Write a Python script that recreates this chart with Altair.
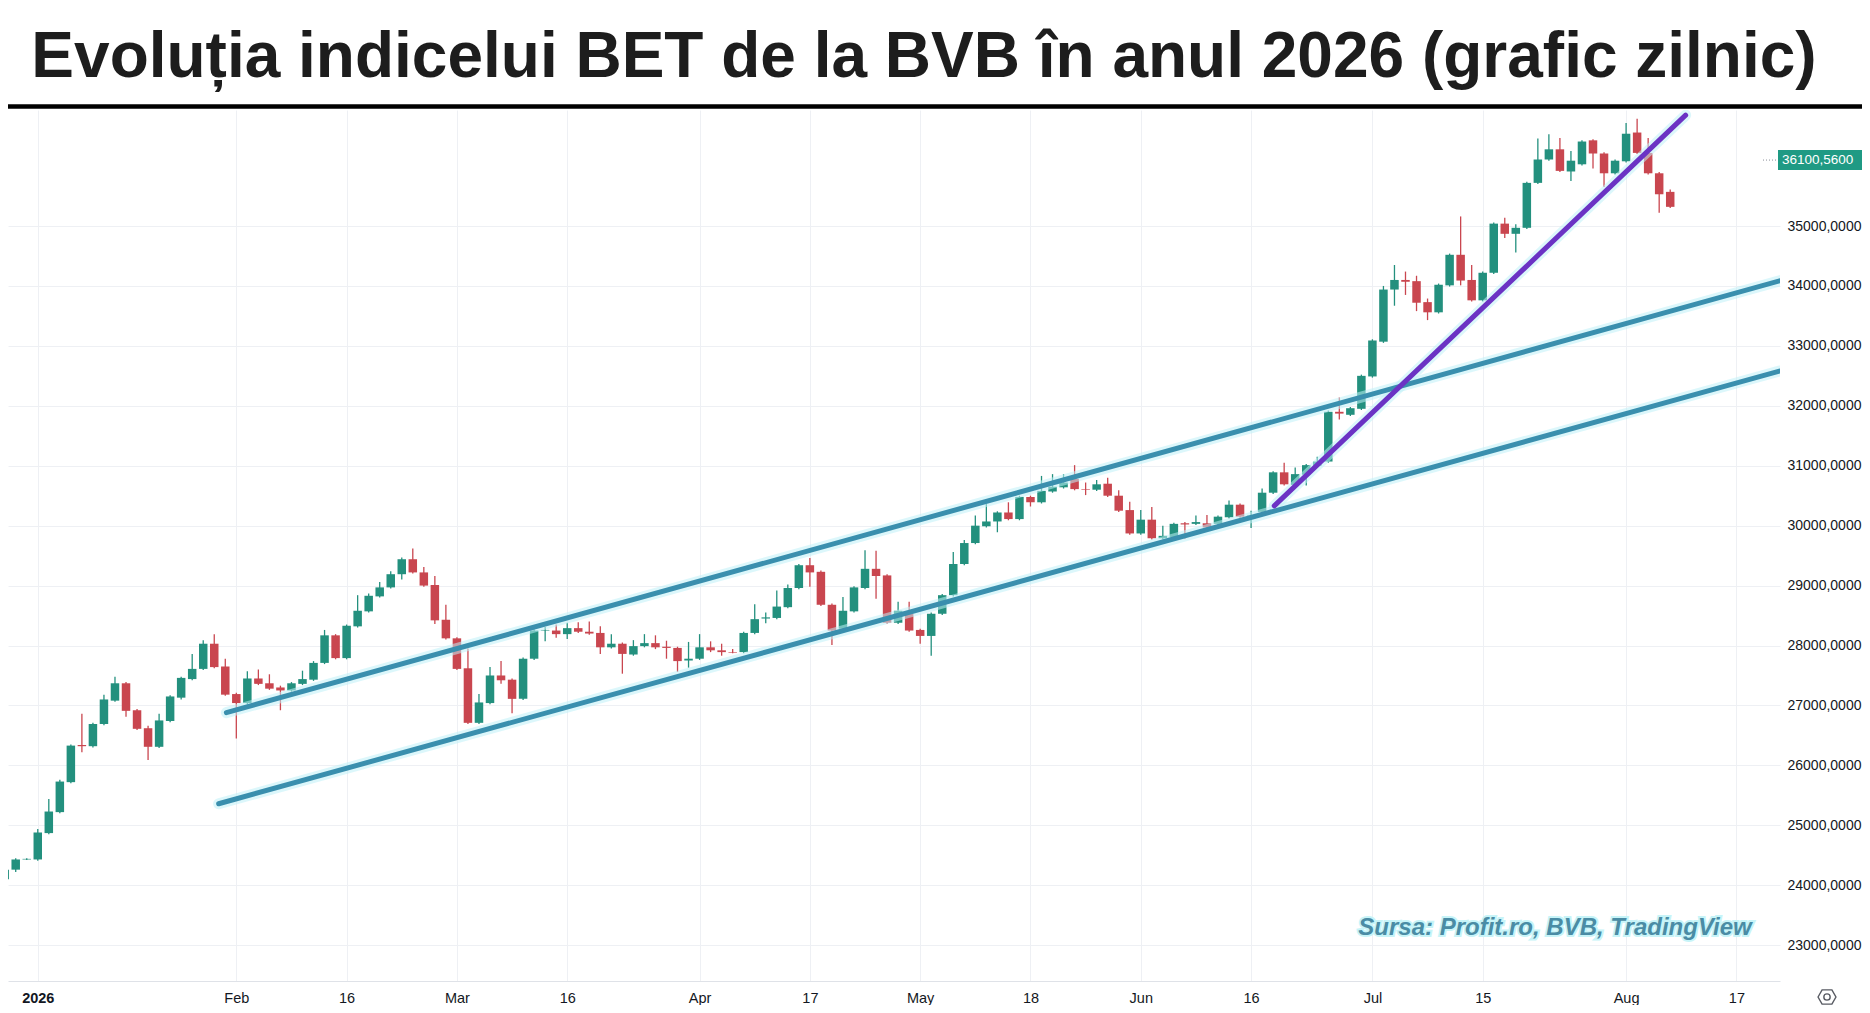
import altair as alt
import pandas as pd
import numpy as np

# ---------------- data ----------------
title_text = "Evoluția indicelui BET de la BVB în anul 2026 (grafic zilnic)"
source_text = "Sursa: Profit.ro, BVB, TradingView"

dec_dates = ["2025-12-23", "2025-12-29", "2025-12-30"]
holidays = ["2026-01-01", "2026-01-02", "2026-01-06", "2026-01-07",
            "2026-04-10", "2026-04-13", "2026-05-01", "2026-06-01"]

opens = [
    24100, 24260, 24430,
    24430, 24870, 25220, 25720, 26340, 26320, 26690, 27080, 27370, 26920,
    26620, 26310, 26740, 27130, 27440, 27610, 28030, 27650, 27190, 27040,
    27450, 27370, 27300, 27250, 27360, 27430, 27710, 28170, 27790, 28320,
    28570, 28820, 28970, 29190, 29440, 29220, 29010, 28430, 28120, 27620,
    26710, 27040, 27500, 27430, 27110, 27780, 28250, 28250, 28190, 28290,
    28230, 28210, 27970, 28030, 27850, 27990, 28040, 27980, 27960, 27750,
    27780, 27970, 27920, 27890, 27890, 28210, 28450, 28460, 28640, 28960,
    29340, 29230, 28680, 28280, 28570, 28960, 29280, 29170, 28380, 28530,
    28260, 28160, 28530, 28840, 29360, 29710, 29990, 30070, 30220, 30110,
    30480, 30390, 30570, 30640, 30780, 30610, 30600, 30700, 30500, 30260,
    29870, 30100, 29790, 29810, 30040, 30030, 30040, 30030, 30140, 30350,
    30110, 30230, 30550, 30890, 30680, 30850, 31000, 31070, 31900, 31850,
    31950, 32490, 33070, 33940, 34100, 34080, 33730, 33560, 34010, 34520,
    34100, 33760, 34220, 35040, 34870, 34970, 35720, 36110, 36280, 35910,
    36030, 36430, 36210, 35880, 36080, 36560, 36220, 35880, 35570,
]
closes = [
    24260, 24430, 24440,
    24880, 25230, 25730, 26330, 26320, 26690, 27100, 27370, 26910, 26610,
    26310, 26750, 27150, 27460, 27610, 28030, 27640, 27180, 27040, 27450,
    27360, 27280, 27250, 27370, 27440, 27710, 28170, 27790, 28330, 28580,
    28830, 28970, 29190, 29440, 29220, 29000, 28420, 28120, 27610, 26710,
    27050, 27500, 27420, 27110, 27780, 28250, 28260, 28190, 28290, 28230,
    28200, 27970, 28030, 27860, 27990, 28040, 27970, 27960, 27740, 27780,
    27970, 27920, 27890, 27880, 28210, 28440, 28470, 28650, 28960, 29340,
    29220, 28680, 28250, 28580, 28970, 29280, 29160, 28380, 28580, 28250,
    28160, 28530, 28840, 29360, 29710, 30000, 30070, 30220, 30110, 30480,
    30390, 30580, 30650, 30720, 30610, 30600, 30690, 30500, 30250, 29870,
    30100, 29790, 29830, 30030, 30020, 30060, 29970, 30150, 30350, 30150,
    30170, 30550, 30890, 30690, 30860, 31010, 31070, 31900, 31870, 31960,
    32500, 33090, 33940, 34100, 34070, 33720, 33560, 34020, 34520, 34090,
    33760, 34220, 35040, 34870, 34970, 35720, 36110, 36280, 35920, 36090,
    36410, 36210, 35880, 36090, 36540, 36220, 35880, 35530, 35320,
]
highs = [
    24280, 24450, 24450,
    24940, 25440, 25760, 26350, 26860, 26710, 27180, 27480, 27390, 26940,
    26660, 26860, 27170, 27480, 27860, 28090, 28190, 27780, 27210, 27570,
    27600, 27520, 27330, 27390, 27580, 27740, 28260, 28190, 28350, 28840,
    28870, 29060, 29240, 29470, 29620, 29310, 29160, 28680, 28140, 27950,
    27190, 27640, 27740, 27450, 27800, 28270, 28310, 28350, 28380, 28390,
    28400, 28320, 28190, 28050, 28090, 28190, 28170, 28080, 27980, 28060,
    28190, 28070, 28030, 27940, 28230, 28690, 28550, 28920, 29020, 29360,
    29460, 29250, 28700, 28810, 28990, 29590, 29580, 29190, 28730, 28730,
    28280, 28550, 28860, 29560, 29760, 30170, 30360, 30240, 30390, 30500,
    30500, 30830, 30860, 30860, 31010, 30720, 30760, 30800, 30590, 30400,
    30260, 30310, 30000, 30050, 30060, 30170, 30180, 30170, 30420, 30370,
    30250, 30620, 30910, 31050, 30970, 31030, 31150, 31920, 32140, 31980,
    32520, 33110, 34000, 34350, 34240, 34170, 33790, 34040, 34540, 35160,
    34350, 34240, 35060, 35140, 35030, 35740, 36460, 36530, 36470, 36250,
    36430, 36450, 36230, 36110, 36720, 36790, 36470, 35900, 35610,
]
lows = [
    24060, 24220, 24420,
    24410, 24850, 25200, 25700, 26220, 26300, 26670, 27060, 26810, 26590,
    26090, 26290, 26720, 27100, 27420, 27590, 27620, 27160, 26450, 27020,
    27340, 27260, 26920, 27230, 27340, 27410, 27690, 27770, 27770, 28300,
    28550, 28800, 28950, 29100, 29200, 28980, 28360, 28100, 27590, 26690,
    26690, 27020, 27360, 26870, 27090, 27760, 28070, 28130, 28110, 28210,
    28180, 27860, 27950, 27530, 27830, 27970, 27940, 27780, 27560, 27630,
    27760, 27890, 27830, 27870, 27870, 28190, 28370, 28440, 28620, 28940,
    28980, 28660, 28010, 28260, 28550, 28940, 28780, 28360, 28360, 28230,
    28030, 27830, 28510, 28820, 29340, 29690, 29970, 29890, 30090, 30090,
    30320, 30370, 30550, 30620, 30590, 30510, 30580, 30480, 30230, 29850,
    29850, 29770, 29770, 29790, 29780, 30010, 29950, 30010, 30120, 30130,
    29960, 30210, 30530, 30670, 30660, 30670, 30980, 31050, 31770, 31830,
    31930, 32470, 33050, 33670, 33850, 33580, 33430, 33540, 33990, 34010,
    33740, 33740, 34200, 34800, 34560, 34950, 35700, 36090, 35900, 35750,
    36010, 35960, 35650, 35860, 36060, 36200, 35860, 35220, 35300,
]

tick_dates = ["2026-01-05", "2026-02-02", "2026-02-16", "2026-03-02", "2026-03-16",
              "2026-04-01", "2026-04-17", "2026-05-04", "2026-05-18", "2026-06-02",
              "2026-06-16", "2026-07-01", "2026-07-15", "2026-08-03", "2026-08-17"]
tick_labels = ["2026", "Feb", "16", "Mar", "16", "Apr", "17", "May", "18", "Jun",
               "16", "Jul", "15", "Aug", "17"]
price_ticks = [23000, 24000, 25000, 26000, 27000, 28000, 29000, 30000, 31000,
               32000, 33000, 34000, 35000]

# drawn trend lines (bar index, value)
line_names = ["upper", "lower", "steep"]
line_x1 = [17.1, 16.4, 112.1]
line_y1 = [26880, 25360, 30330]
line_x2 = [158.0, 157.9, 149.4]
line_y2 = [34090, 32580, 36850]

last_price = 36100.56

# ---------------- build tables ----------------
days = [d.strftime("%Y-%m-%d") for d in pd.bdate_range("2026-01-01", "2026-08-31")]
days = [d for d in days if d not in holidays]
calendar = dec_dates + days
first = len(dec_dates)
n = len(opens)
df = pd.DataFrame({
    "date": calendar[:n],
    "idx": list(range(-first, n - first)),
    "open": opens, "high": highs, "low": lows, "close": closes,
})
df["dir"] = np.where(df["close"] >= df["open"], "up", "down")
tick_idx = [calendar.index(d) - first for d in tick_dates]

lines_df = pd.DataFrame({"name": line_names, "x1": line_x1, "y1": line_y1,
                         "x2": line_x2, "y2": line_y2})

UP = "#23907e"
DOWN = "#c9464f"
FONT = "Liberation Sans"
W, H = 1772, 871

xscale = alt.Scale(domain=[-2.246, 157.5], nice=False, zero=False)
yscale = alt.Scale(domain=[22402, 36936], nice=False, zero=False)

label_expr = "[" + ",".join("'%s'" % t for t in tick_labels) + "][indexof([" + \
    ",".join(str(v) for v in tick_idx) + "], datum.value)]"

xaxis = alt.Axis(values=tick_idx, labelExpr=label_expr, grid=True, gridColor="#eef0f4",
                 ticks=False, domain=True, domainColor="#dfe2e8", labelPadding=10,
                 labelFontSize=14.5, labelFont=FONT, labelColor="#131722", title=None,
                 labelFontWeight={"condition": {"test": "datum.value === 0", "value": "bold"},
                                  "value": "normal"})
yaxis = alt.Axis(orient="right", values=price_ticks,
                 labelExpr="format(datum.value, 'd') + ',0000'", grid=True,
                 gridColor="#eef0f4", ticks=False, domain=False, labelPadding=7,
                 labelFontSize=14, labelFont=FONT, labelColor="#131722", title=None)

color = alt.Color("dir:N", scale=alt.Scale(domain=["up", "down"], range=[UP, DOWN]), legend=None)

base = alt.Chart(df)
wicks = base.mark_rule(strokeWidth=1.3, clip=True).encode(
    x=alt.X("idx:Q", scale=xscale, axis=xaxis),
    y=alt.Y("low:Q", scale=yscale, axis=yaxis),
    y2="high:Q",
    color=color,
)
bodies = base.mark_bar(size=8.5, clip=True).encode(
    x="idx:Q", y="open:Q", y2="close:Q", color=color,
)

lbase = alt.Chart(lines_df)
glow = lbase.mark_rule(strokeWidth=11, strokeCap="round", clip=True, opacity=0.55).encode(
    x="x1:Q", y="y1:Q", x2="x2:Q", y2="y2:Q",
    color=alt.value("#bff1f7"),
)
trend = lbase.mark_rule(strokeWidth=5, strokeCap="round", clip=True).encode(
    x="x1:Q", y="y1:Q", x2="x2:Q", y2="y2:Q",
    color=alt.Color("name:N", scale=alt.Scale(domain=line_names,
                                              range=["#3a8fae", "#3a8fae", "#6b33c4"]),
                    legend=None),
)

tag_df = pd.DataFrame({"price": [last_price]})
tbase = alt.Chart(tag_df).transform_calculate(
    label="replace(format(datum.price, '.4f'), '.', ',')")
tag_dots = tbase.mark_rule(strokeDash=[1, 2], color="#8a8f99", strokeWidth=1).encode(
    x=alt.value(1755), x2=alt.value(1768), y="price:Q")
tag_box = tbase.mark_rect(color="#1f9a84", yOffset=-10, y2Offset=10).encode(
    x=alt.value(1770), x2=alt.value(1854), y="price:Q", y2="price:Q")
tag_text = tbase.mark_text(align="left", baseline="middle", color="white",
                           fontSize=13.5, font=FONT).encode(
    x=alt.value(1774), y="price:Q", text="label:N")

txt_df = pd.DataFrame({"title": [title_text], "src": [source_text], "icon": ["settings"]})
tx = alt.Chart(txt_df)
title = tx.mark_text(fontSize=64, fontWeight="bold", font=FONT, color="#1d1d1d",
                     align="center", baseline="alphabetic").encode(
    x=alt.value(916), y=alt.value(-33), text="title:N")
bar_line = tx.mark_rule(color="#000000", strokeWidth=4.5).encode(
    x=alt.value(-10), x2=alt.value(1870), y=alt.value(-3.5))
src_glow = tx.mark_text(fontSize=24, fontWeight="bold", fontStyle="italic", font=FONT,
                        color="#c7f4f8", stroke="#c7f4f8", strokeWidth=4,
                        align="center", baseline="alphabetic").encode(
    x=alt.value(1547), y=alt.value(825), text="src:N")
src = tx.mark_text(fontSize=24, fontWeight="bold", fontStyle="italic", font=FONT,
                   color="#4a8ca5", align="center", baseline="alphabetic").encode(
    x=alt.value(1547), y=alt.value(825), text="src:N")
hexagon = "M-1,0L-0.55,-0.8L0.55,-0.8L1,0L0.55,0.8L-0.55,0.8Z"
icon_hex = tx.mark_point(shape=hexagon, filled=False, size=320, strokeWidth=1.4,
                         color="#131722").encode(x=alt.value(1819), y=alt.value(887))
icon_dot = tx.mark_point(shape="circle", filled=False, size=40, strokeWidth=1.4,
                         color="#131722").encode(x=alt.value(1819), y=alt.value(887))

chart = alt.layer(
    wicks, bodies, glow, trend, tag_dots, tag_box, tag_text,
    title, bar_line, src_glow, src, icon_hex, icon_dot,
).resolve_scale(color="independent").properties(
    width=W, height=H,
    autosize=alt.AutoSizeParams(type="none"),
    padding={"left": 0, "top": 102, "right": 82, "bottom": 24},
    background="white",
).configure_view(stroke=None)

chart.save("out.html", embed_options={"renderer": "svg", "actions": False})
